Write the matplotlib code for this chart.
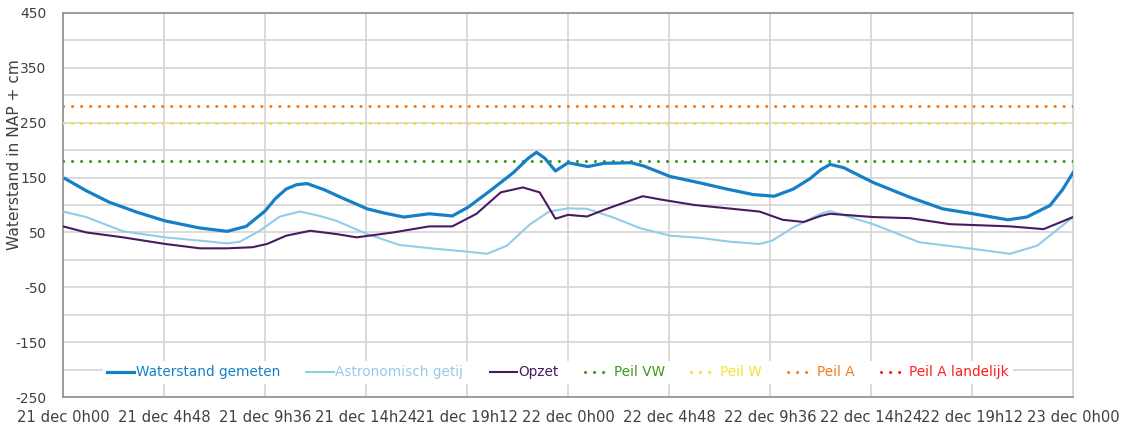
"""
Waterstand gemeten vs. astronomisch getij en opzet, 21-23 december.
"""
import matplotlib.pyplot as plt
import numpy as np

plt.rcParams['axes.unicode_minus'] = False

# Gemeten waterstand (uur vanaf 21 dec 0h00, cm t.o.v. NAP)
uren_gemeten = [0.1, 1.1, 2.2, 3.5, 4.85, 6.5, 7.8, 8.7, 9.6, 10.1, 10.6, 11.1, 11.6,
                12.4, 13.2, 14.45, 15.3, 16.2, 17.4, 18.5, 19.25, 20.3, 21.4, 22.1,
                22.5, 22.9, 23.4, 24.0, 24.95, 25.7, 27.0, 27.6, 28.85, 30.3, 31.55,
                32.8, 33.8, 34.7, 35.5, 36.0, 36.45, 37.1, 38.5, 40.25, 41.8, 43.25,
                44.9, 45.8, 46.9, 47.5, 48.0]
waterstand = [148, 126, 105, 87, 71, 58, 52, 61, 89, 112, 129, 137, 139,
              128, 114, 93, 85, 78, 84, 80, 96, 126, 159, 185,
              196, 185, 162, 177, 170, 176, 177, 171, 152, 140, 129,
              119, 116, 129, 148, 164, 174, 168, 141, 114, 93, 84,
              73, 78, 99, 128, 159]

# Astronomisch getij
uren_getij = [0.0, 1.1, 2.85, 4.85, 6.5, 7.8, 8.4, 9.35, 10.3, 11.25, 12.2, 13.0,
              14.45, 16.0, 17.75, 19.2, 20.15, 21.1, 22.2, 23.1, 24.0, 24.9, 26.1,
              27.4, 28.85, 30.3, 31.7, 33.1, 33.7, 34.7, 36.0, 36.45, 38.5, 40.7,
              43.25, 45.0, 46.3, 48.0]
getij = [88, 78, 52, 41, 35, 30, 33, 53, 79, 88, 80, 71,
         47, 27, 20, 15, 11, 26, 65, 88, 94, 93, 78,
         58, 44, 40, 33, 29, 35, 59, 84, 89, 65, 32,
         20, 11, 26, 78]

# Opzet
uren_opzet = [0.0, 1.1, 2.85, 4.85, 6.5, 7.8, 9.0, 9.7, 10.6, 11.75, 13.0, 13.95,
              15.7, 17.4, 18.5, 19.65, 20.8, 21.85, 22.65, 23.4, 24.0, 24.9, 25.7,
              26.5, 27.55, 28.4, 30.0, 31.55, 33.1, 34.2, 35.2, 36.0, 36.45, 38.5,
              40.25, 42.15, 45.0, 46.6, 48.0]
opzet = [61, 50, 41, 29, 21, 21, 23, 29, 44, 53, 47, 41,
         50, 61, 61, 84, 123, 132, 123, 75, 82, 79, 91,
         102, 116, 110, 100, 94, 88, 73, 69, 80, 84, 78,
         76, 65, 61, 56, 78]

# Vaste peilen (cm NAP)
peil_vw = 180
peil_w = 250
peil_a = 280
peil_a_landelijk = 470  # ligt boven de as

tick_uren = np.arange(0, 48.1, 4.8)
tick_labels = ['21 dec 0h00', '21 dec 4h48', '21 dec 9h36', '21 dec 14h24',
               '21 dec 19h12', '22 dec 0h00', '22 dec 4h48', '22 dec 9h36',
               '22 dec 14h24', '22 dec 19h12', '23 dec 0h00']

kleur_gemeten = '#1580c8'
kleur_getij = '#92cce8'
kleur_opzet = '#4a1a60'
kleur_vw = '#3d9a18'
kleur_w = '#f5e332'
kleur_a = '#ee7d22'
kleur_landelijk = '#ff1c1c'

fig = plt.figure(figsize=(11.26, 4.32), dpi=100)
ax = fig.add_axes([0.056, 0.081, 0.897, 0.889])

ax.plot(uren_gemeten, waterstand, color=kleur_gemeten, lw=2.3,
        label='Waterstand gemeten', zorder=5, solid_joinstyle='round')
ax.plot(uren_getij, getij, color=kleur_getij, lw=1.5,
        label='Astronomisch getij', zorder=4, solid_joinstyle='round')
ax.plot(uren_opzet, opzet, color=kleur_opzet, lw=1.5, label='Opzet', zorder=4,
        solid_joinstyle='round')

stippel = (0, (0.05, 2.9))
for waarde, kleur, naam in [(peil_vw, kleur_vw, 'Peil VW'),
                            (peil_w, kleur_w, 'Peil W'),
                            (peil_a, kleur_a, 'Peil A'),
                            (peil_a_landelijk, kleur_landelijk, 'Peil A landelijk')]:
    ax.plot([0, 48], [waarde, waarde], color=kleur, lw=2.2, linestyle=stippel,
            dash_capstyle='round', label=naam, zorder=3)

ax.set_xlim(0, 48)
ax.set_ylim(-250, 450)
ax.set_xticks(tick_uren)
ax.set_xticklabels(tick_labels)
ax.set_yticks(np.arange(-250, 451, 100))
ax.set_yticks(np.arange(-250, 451, 50), minor=True)

ax.grid(True, which='both', color='#d4d4d4', lw=1.2)
ax.set_axisbelow(True)
ax.tick_params(which='both', length=0, labelsize=10, colors='#404040')
ax.tick_params(axis='x', pad=9, labelsize=10.6)
ax.tick_params(axis='y', pad=12)
for kant in ['left', 'bottom', 'top']:
    ax.spines[kant].set_color('#909090')
    ax.spines[kant].set_linewidth(1.2)
ax.spines['right'].set_color('#d4d4d4')

ax.set_ylabel('Waterstand in NAP + cm', fontsize=11.2, color='#404040')
ax.yaxis.set_label_coords(-0.041, 0.63)

leg = ax.legend(loc='center', bbox_to_anchor=(0.49, 0.064), ncol=7,
                fontsize=9.8, frameon=True, framealpha=1, edgecolor='none',
                handlelength=2.0, handletextpad=0.1, columnspacing=1.95,
                borderpad=0.3)
for tekst, lijn in zip(leg.get_texts(), leg.get_lines()):
    tekst.set_color(lijn.get_color())

fig.savefig('out.png', dpi=100)
